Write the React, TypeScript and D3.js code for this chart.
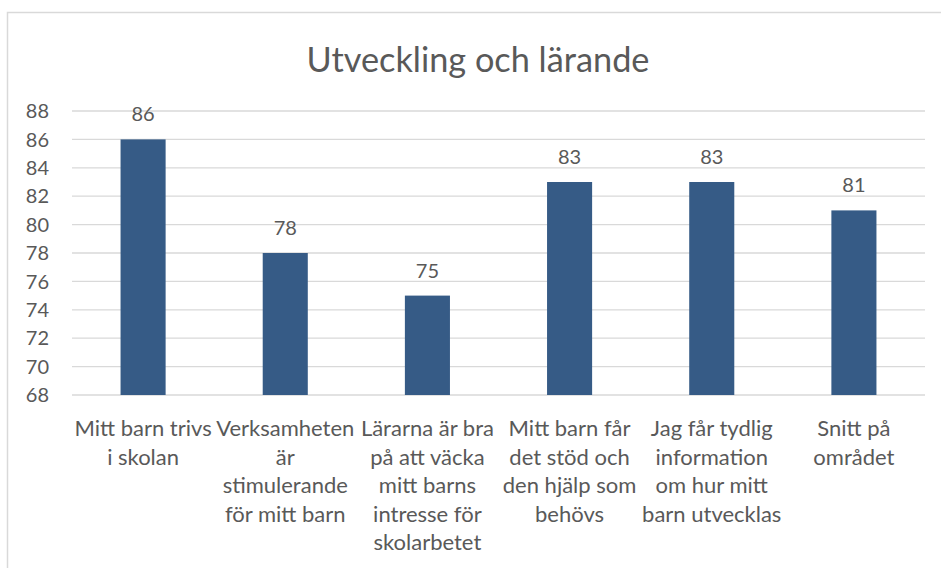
import React from "react";
import * as d3 from "d3";

const title = "Utveckling och lärande";
const categories = [
  "Mitt barn trivs\ni skolan",
  "Verksamheten\när\nstimulerande\nför mitt barn",
  "Lärarna är bra\npå att väcka\nmitt barns\nintresse för\nskolarbetet",
  "Mitt barn får\ndet stöd och\nden hjälp som\nbehövs",
  "Jag får tydlig\ninformation\nom hur mitt\nbarn utvecklas",
  "Snitt på\nområdet",
];
const values = [86, 78, 75, 83, 83, 81];
const yTicks = [68, 70, 72, 74, 76, 78, 80, 82, 84, 86, 88];

const W = 941;
const H = 568;
const FONT = "Lato, 'Open Sans', sans-serif";
const TEXT = "#595959";
const GRID = "#d9d9d9";
const BAR = "#365b86";

export default function App() {
  const x = d3
    .scaleBand<number>()
    .domain(d3.range(categories.length))
    .range([72, 925])
    .paddingInner(0.683)
    .paddingOuter(0.3415);
  const y = d3.scaleLinear().domain([68, 88]).range([395, 111]);

  return (
    <svg
      width={W}
      height={H}
      style={{ position: "absolute", left: 0, top: 0, background: "#fff" }}
      fontFamily={FONT}
    >
      <rect x={7.5} y={12.5} width={W + 10} height={H + 10} fill="#fff" stroke={GRID} strokeWidth={1.5} />
      <text x={478} y={72} textAnchor="middle" fontSize={34.3} fill={TEXT}>
        {title}
      </text>
      {yTicks.map((t) => (
        <g key={t}>
          <line x1={72} x2={925} y1={y(t)} y2={y(t)} stroke={GRID} strokeWidth={1.3} />
          <text x={49} y={y(t)} dy="0.36em" textAnchor="end" fontSize={20} fill={TEXT}>
            {t}
          </text>
        </g>
      ))}
      {values.map((v, i) => (
        <g key={i}>
          <rect x={x(i)} y={y(v)} width={x.bandwidth()} height={y(68) - y(v)} fill={BAR} />
          <text
            x={(x(i) as number) + x.bandwidth() / 2}
            y={y(v) - 18}
            textAnchor="middle"
            fontSize={20}
            fill={TEXT}
          >
            {v}
          </text>
        </g>
      ))}
      {categories.map((c, i) => {
        const cx = (x(i) as number) + x.bandwidth() / 2;
        return (
          <text key={i} textAnchor="middle" fontSize={22} fill={TEXT}>
            {c.split("\n").map((line, j) => (
              <tspan key={j} x={cx} y={436 + j * 28.5}>
                {line}
              </tspan>
            ))}
          </text>
        );
      })}
    </svg>
  );
}
